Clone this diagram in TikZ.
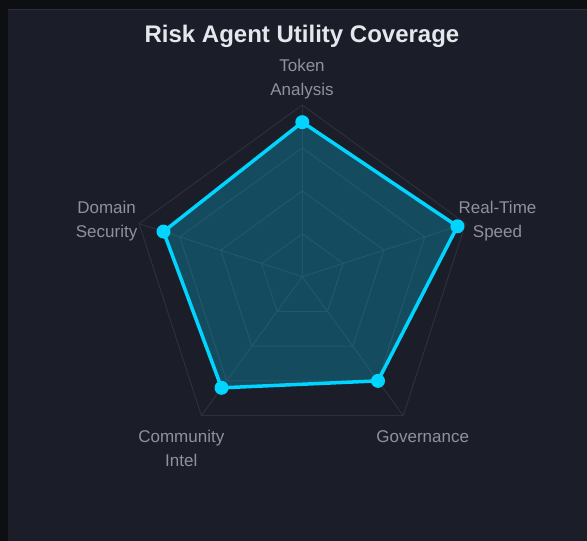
\documentclass[tikz,border=0pt]{standalone}
\usepackage{fontspec}
\setmainfont{Liberation Sans}
\definecolor{outerbg}{HTML}{0E0F13}
\definecolor{panelbg}{HTML}{1B1E29}
\definecolor{panelborder}{HTML}{2B2F3B}
\definecolor{gridc}{HTML}{2C303B}
\definecolor{datac}{HTML}{00D4FF}
\definecolor{labelc}{HTML}{8F929E}
\definecolor{titlec}{HTML}{E5E7EC}
\tikzset{
  gridline/.style={draw=gridc, line width=1pt},
  datafill/.style={fill=datac, fill opacity=0.25},
  dataline/.style={draw=datac, line width=3.5pt, line join=round},
  datadot/.style={circle, fill=datac, inner sep=0pt, minimum size=14pt},
  axislabel/.style={text=labelc, font=\fontsize{17}{24}\selectfont, align=center, anchor=base, inner sep=0pt},
  titletext/.style={text=titlec, font=\fontsize{24}{28}\selectfont\bfseries, anchor=base, inner sep=0pt}
}
\begin{document}
\begin{tikzpicture}[x=1pt,y=1pt]
\useasboundingbox (0,0) rectangle (587,541);
\fill[outerbg] (0,0) rectangle (587,541);
\fill[panelbg] (8,0) rectangle (587,532);
\draw[panelborder, line width=1pt] (8,531.5) -- (587,531.5);
\node[titletext] (title) at (302,498.7) {Risk Agent Utility Coverage};
\begin{scope}[shift={(302.3,264.3)}]
  \def\R{171.7}
  \foreach \f in {0.25,0.5,0.75,1} {
    \draw[gridline] (90:\f*\R) -- (18:\f*\R) -- (-54:\f*\R) -- (-126:\f*\R) -- (162:\f*\R) -- cycle;
  }
  \coordinate (O) at (0,0);
  \foreach \a in {90,18,-54,-126,162} {
    \draw[gridline] (O) -- (\a:\R);
  }
  \coordinate (d1) at (90:0.90*\R);
  \coordinate (d2) at (18:0.95*\R);
  \coordinate (d3) at (-54:0.75*\R);
  \coordinate (d4) at (-126:0.80*\R);
  \coordinate (d5) at (162:0.85*\R);
  \fill[datafill] (d1) -- (d2) -- (d3) -- (d4) -- (d5) -- cycle;
  \draw[dataline] (d1) -- (d2) -- (d3) -- (d4) -- (d5) -- cycle;
  \node[datadot] (p1) at (d1) {};
  \node[datadot] (p2) at (d2) {};
  \node[datadot] (p3) at (d3) {};
  \node[datadot] (p4) at (d4) {};
  \node[datadot] (p5) at (d5) {};
\end{scope}
\node[axislabel] (ltoken) at (302,445.3) {Token\\Analysis};
\node[axislabel] (lspeed) at (497.5,303) {Real-Time\\Speed};
\node[axislabel] (lgov) at (422.7,98.3) {Governance};
\node[axislabel] (lcomm) at (181.3,74) {Community\\Intel};
\node[axislabel] (ldomain) at (106.6,303.3) {Domain\\Security};
\end{tikzpicture}
\end{document}
